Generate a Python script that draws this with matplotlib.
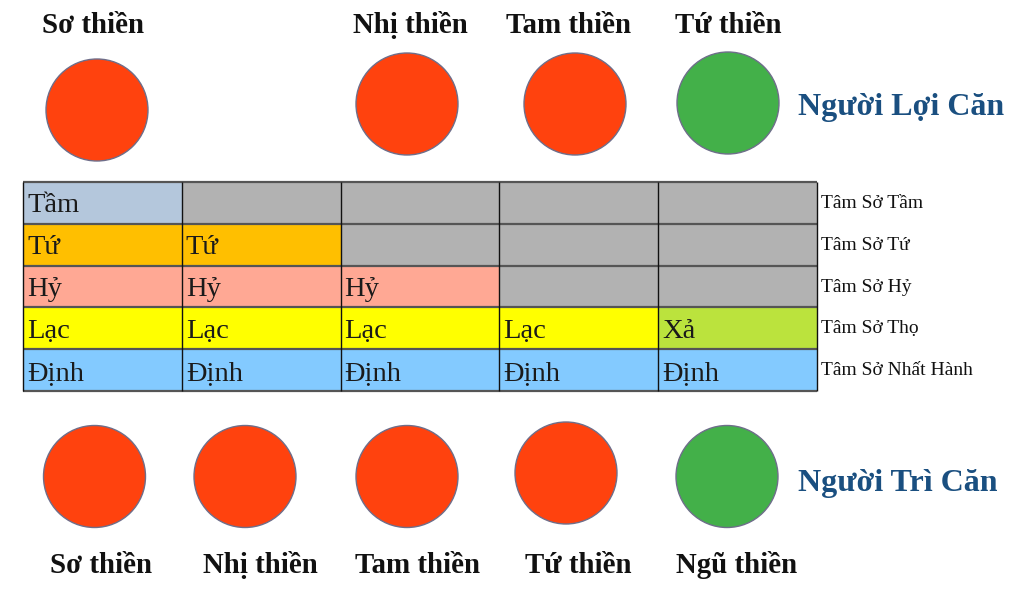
import matplotlib
matplotlib.use("Agg")
import matplotlib.pyplot as plt
from matplotlib.patches import Circle, Rectangle

# ---- data ----
top_labels = ["Sơ thiền", "Nhị thiền", "Tam thiền", "Tứ thiền"]
top_colors = ["#ff420e", "#ff420e", "#ff420e", "#43b049"]
top_group = "Người Lợi Căn"

bottom_labels = ["Sơ thiền", "Nhị thiền", "Tam thiền", "Tứ thiền", "Ngũ thiền"]
bottom_colors = ["#ff420e", "#ff420e", "#ff420e", "#ff420e", "#43b049"]
bottom_group = "Người Trì Căn"

row_labels = ["Tâm Sở Tầm", "Tâm Sở Tứ", "Tâm Sở Hỷ", "Tâm Sở Thọ", "Tâm Sở Nhất Hành"]
cell_text = [
    ["Tầm", "", "", "", ""],
    ["Tứ", "Tứ", "", "", ""],
    ["Hỷ", "Hỷ", "Hỷ", "", ""],
    ["Lạc", "Lạc", "Lạc", "Lạc", "Xả"],
    ["Định", "Định", "Định", "Định", "Định"],
]
cell_colors = [
    ["#b4c7dc", "#b2b2b2", "#b2b2b2", "#b2b2b2", "#b2b2b2"],
    ["#ffbf00", "#ffbf00", "#b2b2b2", "#b2b2b2", "#b2b2b2"],
    ["#ffa894", "#ffa894", "#ffa894", "#b2b2b2", "#b2b2b2"],
    ["#ffff00", "#ffff00", "#ffff00", "#ffff00", "#bbe33d"],
    ["#83caff", "#83caff", "#83caff", "#83caff", "#83caff"],
]

# ---- layout (pixels) ----
W, H = 1026, 596
fig = plt.figure(figsize=(W / 100, H / 100), dpi=100)
ax = fig.add_axes([0, 0, 1, 1])
ax.set_xlim(0, W)
ax.set_ylim(H, 0)
ax.axis("off")

serif = ["Liberation Serif", "DejaVu Serif"]
navy = "#1a4f80"

# top row
top_cx = [97, 407, 575, 728]
top_cy = [110, 104, 104, 103]
top_lx = [93, 410, 569, 728]
R = 51
for lab, col, cx, cy, lx in zip(top_labels, top_colors, top_cx, top_cy, top_lx):
    ax.add_patch(Circle((cx, cy), R, facecolor=col, edgecolor="#6e6e8a", linewidth=1.0))
    ax.text(lx, 33, lab, ha="center", va="baseline", fontsize=20.8, fontweight="bold",
            family=serif, color="#111111")
ax.text(798, 115, top_group, ha="left", va="baseline", fontsize=23, fontweight="bold",
        family=serif, color=navy)

# table
x0, x1 = 23, 817
y0, y1 = 182, 391
ncol = len(cell_text[0])
nrow = len(cell_text)
cw = (x1 - x0) / ncol
rh = (y1 - y0) / nrow
for r in range(nrow):
    for c in range(ncol):
        xl = x0 + c * cw
        yt = y0 + r * rh
        ax.add_patch(Rectangle((xl, yt), cw, rh, facecolor=cell_colors[r][c],
                               edgecolor="none"))
        if cell_text[r][c]:
            ax.text(xl + 4, yt + 30.5, cell_text[r][c], ha="left", va="baseline",
                    fontsize=20.5, family=serif, color="#1a1a1a")
    ax.text(x1 + 4, y0 + r * rh + 26, row_labels[r], ha="left", va="baseline",
            fontsize=14, family=serif, color="#111111")
for r in range(nrow + 1):
    y = y0 + r * rh
    ax.plot([x0, x1], [y, y], color="#555555", linewidth=1.6, solid_capstyle="butt")
for c in range(ncol + 1):
    x = x0 + c * cw
    ax.plot([x, x], [y0, y1], color="#111111", linewidth=1.0, solid_capstyle="butt")

# bottom row
bot_cx = [94.5, 245, 407, 566, 727]
bot_cy = [476.5, 476.5, 476.5, 473, 476.5]
bot_lx = [101, 260, 418, 578, 737]
for lab, col, cx, cy, lx in zip(bottom_labels, bottom_colors, bot_cx, bot_cy, bot_lx):
    ax.add_patch(Circle((cx, cy), R, facecolor=col, edgecolor="#6e6e8a", linewidth=1.0))
    ax.text(lx, 573, lab, ha="center", va="baseline", fontsize=20.8, fontweight="bold",
            family=serif, color="#111111")
ax.text(798, 491, bottom_group, ha="left", va="baseline", fontsize=23, fontweight="bold",
        family=serif, color=navy)

fig.savefig("out.png", dpi=100)
